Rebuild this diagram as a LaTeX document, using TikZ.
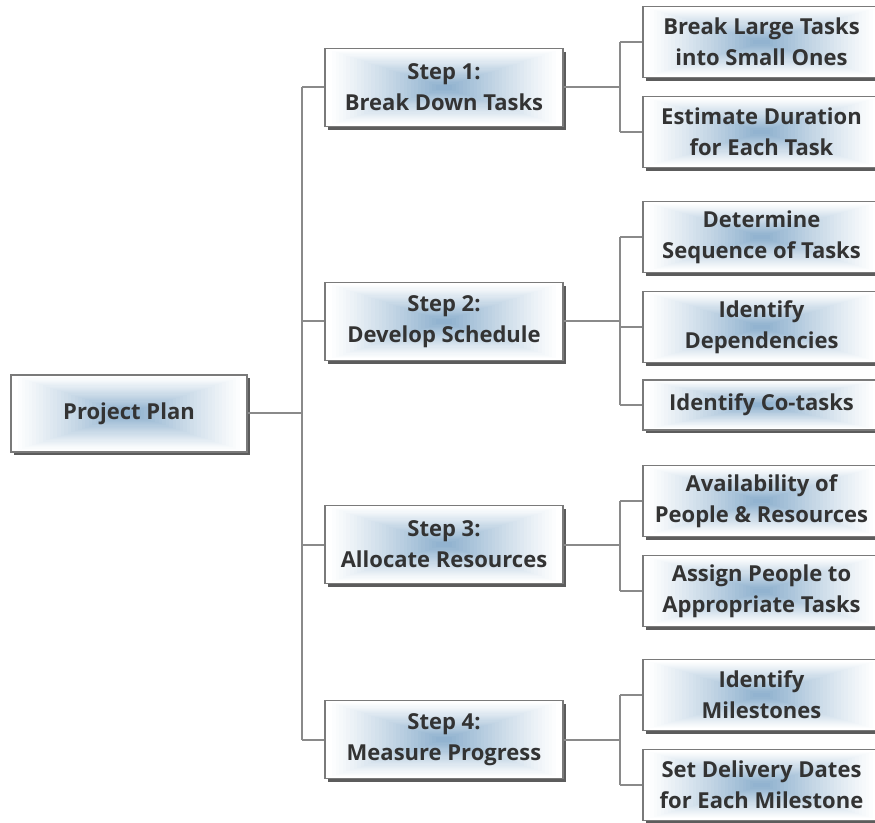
\documentclass[tikz,border=0pt]{standalone}
\usepackage{fontspec}
\setmainfont{Open Sans}
\usetikzlibrary{calc,shadows}
\definecolor{txt}{HTML}{333333}
\definecolor{edgec}{HTML}{7A7A7A}
\definecolor{linec}{HTML}{8A8A8A}
\definecolor{bluec}{RGB}{140,175,205}
\tikzset{
  box/.style={draw=edgec, fill=white, line width=1.1pt, inner sep=0pt, align=center, text=txt,
    font=\bfseries\fontsize{16.5}{23.25}\selectfont,
    drop shadow={shadow xshift=2.6pt, shadow yshift=-2.6pt, opacity=0.8, fill=black!80},
    path picture={\foreach \i in {0,...,30}{%
      \pgfmathsetmacro\c{95*(\i/30)^1.1}%
      \pgfmathsetmacro\t{0.03+0.9*\i/30}%
      \fill[bluec!\c!white] ($(path picture bounding box.south west)!\t!(path picture bounding box.center)$) rectangle ($(path picture bounding box.north east)!\t!(path picture bounding box.center)$);}}},
  lbox/.style={box, minimum width=178.5pt, minimum height=58.5pt},
  rbox/.style={box, minimum width=177.75pt, minimum height=53.25pt},
  conn/.style={draw=linec, line width=1.5pt}
}
\begin{document}
\begin{tikzpicture}[x=0.75pt,y=-0.75pt]
\useasboundingbox (0,0) rectangle (875,823);
\node[lbox, minimum width=177pt, minimum height=57.75pt] (pp) at (129,413.5) {Project Plan};
\node[lbox] (s1) at (444,87.5) {Step 1:\\Break Down Tasks};
\node[lbox] (s2) at (444,321.5) {Step 2:\\Develop Schedule};
\node[lbox] (s3) at (444,544.5) {Step 3:\\Allocate Resources};
\node[lbox] (s4) at (444,739.5) {Step 4:\\Measure Progress};
\node[rbox] (r1) at (761.5,42) {Break Large Tasks\\into Small Ones};
\node[rbox] (r2) at (761.5,132) {Estimate Duration\\for Each Task};
\node[rbox] (r3) at (761.5,237) {Determine\\Sequence of Tasks};
\node[rbox] (r4) at (761.5,327) {Identify\\Dependencies};
\node[rbox, minimum height=37.5pt] (r5) at (761.5,405) {Identify Co-tasks};
\node[rbox] (r6) at (761.5,501) {Availability of\\People \& Resources};
\node[rbox] (r7) at (761.5,591) {Assign People to\\Appropriate Tasks};
\node[rbox] (r8) at (761.5,695) {Identify\\Milestones};
\node[rbox] (r9) at (761.5,785) {Set Delivery Dates\\for Each Milestone};
\coordinate (j0) at (302,0);
\coordinate (j1) at (620,0);
\draw[conn] (pp.east) -- (pp.east -| j0);
\draw[conn] (j0 |- s1.west) -- (j0 |- s4.west);
\foreach \s in {s1,s2,s3,s4} \draw[conn] (j0 |- \s.west) -- (\s.west);
\draw[conn] (s1.east) -- (s1.east -| j1);
\draw[conn] (s2.east) -- (s2.east -| j1);
\draw[conn] (s3.east) -- (s3.east -| j1);
\draw[conn] (s4.east) -- (s4.east -| j1);
\draw[conn] (j1 |- r1.west) -- (j1 |- r2.west);
\draw[conn] (j1 |- r3.west) -- (j1 |- r5.west);
\draw[conn] (j1 |- r6.west) -- (j1 |- r7.west);
\draw[conn] (j1 |- r8.west) -- (j1 |- r9.west);
\foreach \r in {r1,r2,r3,r4,r5,r6,r7,r8,r9} \draw[conn] (j1 |- \r.west) -- (\r.west);
\end{tikzpicture}
\end{document}
